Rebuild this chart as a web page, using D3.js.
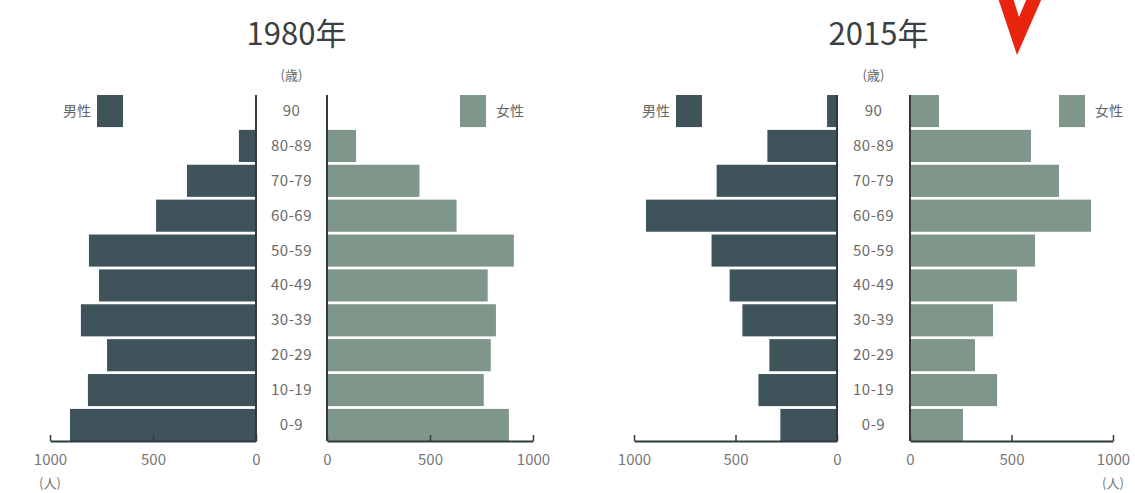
<!DOCTYPE html>
<html><head><meta charset="utf-8">
<script src="https://cdn.jsdelivr.net/npm/d3@7"></script>
<style>
html,body{margin:0;padding:0;background:#fff;}
svg{display:block;font-family:"Noto Sans CJK JP","Noto Sans",sans-serif;}
</style></head>
<body>
<svg id="chart" width="1135" height="493"></svg>
<script>
// ---- data ----
const ages = ["90", "80-89", "70-79", "60-69", "50-59", "40-49", "30-39", "20-29", "10-19", "0-9"];
const years = ["1980年", "2015年"];
const male1980   = [0, 83, 335, 485, 811, 762, 850, 723, 816, 903];
const female1980 = [0, 141, 449, 629, 907, 780, 820, 795, 761, 883];
const male2015   = [49, 343, 593, 941, 618, 529, 466, 333, 387, 279];
const female2015 = [143, 596, 734, 892, 616, 527, 409, 320, 429, 261];
const tickValues = [0, 500, 1000];
const legendLabels = ["男性", "女性"];
const ageUnit = "(歳)";
const countUnit = "(人)";

// ---- layout ----
const svg = d3.select("#chart");
const maleColor = "#3e535a", femaleColor = "#7f968a";
const panels = [
  {title: years[0], male: male1980, female: female1980, mZero: 256, fZero: 327, span: 206, unitSide: "left"},
  {title: years[1], male: male2015, female: female2015, mZero: 837, fZero: 910, span: 203, unitSide: "right"}
];
const y = d3.scaleBand().domain(ages).range([95, 441]).paddingInner(0.08).paddingOuter(0);

panels.forEach((p, pi) => {
  const g = svg.append("g");
  const xm = d3.scaleLinear().domain([0, 1000]).range([p.mZero, p.mZero - p.span]);
  const xf = d3.scaleLinear().domain([0, 1000]).range([p.fZero, p.fZero + p.span]);
  const center = (p.mZero + p.fZero) / 2;

  // title
  g.append("text").attr("x", center + 5).attr("y", 45).attr("text-anchor", "middle")
    .attr("font-size", 31).attr("font-weight", 400).attr("fill", "#3a3f41").text(p.title);

  // bars
  g.selectAll(".m").data(ages).join("rect")
    .attr("x", (d, i) => xm(p.male[i])).attr("y", d => y(d))
    .attr("width", (d, i) => xm(0) - xm(p.male[i])).attr("height", y.bandwidth())
    .attr("fill", maleColor);
  g.selectAll(".f").data(ages).join("rect")
    .attr("x", xf(0)).attr("y", d => y(d))
    .attr("width", (d, i) => xf(p.female[i]) - xf(0)).attr("height", y.bandwidth())
    .attr("fill", femaleColor);

  // vertical zero lines
  [p.mZero, p.fZero].forEach(x => {
    g.append("line").attr("x1", x).attr("x2", x).attr("y1", 95).attr("y2", 441)
      .attr("stroke", "#2e3a3e").attr("stroke-width", 2);
  });

  // age labels
  g.selectAll(".age").data(ages).join("text")
    .attr("x", center).attr("y", d => y(d) + y.bandwidth() / 2 + 5)
    .attr("text-anchor", "middle").attr("font-size", 15).attr("fill", "#6a6a6a")
    .attr("letter-spacing", 0.5).text(d => d);
  g.append("text").attr("x", center).attr("y", 80).attr("text-anchor", "middle")
    .attr("font-size", 13).attr("fill", "#666").text(ageUnit);

  // axes
  const fmt = d3.format("d");
  const axM = d3.axisBottom(xm).tickValues(tickValues).tickFormat(fmt).tickSizeInner(-6).tickSizeOuter(0).tickPadding(13);
  const axF = d3.axisBottom(xf).tickValues(tickValues).tickFormat(fmt).tickSizeInner(-6).tickSizeOuter(0).tickPadding(13);
  [axM, axF].forEach(ax => {
    const a = g.append("g").attr("transform", "translate(0,441)").call(ax);
    a.select(".domain").attr("stroke", "#2e3a3e").attr("stroke-width", 2);
    a.selectAll(".tick line").attr("stroke", "#2e3a3e").attr("stroke-width", 1.5);
    a.selectAll(".tick text").attr("font-size", 15).attr("fill", "#777")
      .attr("font-family", "'Noto Sans CJK JP','Noto Sans',sans-serif");
  });

  // count unit
  const ux = p.unitSide === "left" ? xm(1000) : xf(1000);
  g.append("text").attr("x", ux).attr("y", 488).attr("text-anchor", "middle")
    .attr("font-size", 13).attr("fill", "#777").text(countUnit);

  // legends
  const bw = 26;
  const mBoxX = pi === 0 ? 97 : 676;
  const fBoxX = pi === 0 ? 460 : 1059;
  g.append("rect").attr("x", mBoxX).attr("y", y(ages[0])).attr("width", bw).attr("height", y.bandwidth()).attr("fill", maleColor);
  g.append("text").attr("x", mBoxX - 6).attr("y", y(ages[0]) + y.bandwidth() / 2 + 5)
    .attr("text-anchor", "end").attr("font-size", 14).attr("fill", "#666").text(legendLabels[0]);
  g.append("rect").attr("x", fBoxX).attr("y", y(ages[0])).attr("width", bw).attr("height", y.bandwidth()).attr("fill", femaleColor);
  g.append("text").attr("x", fBoxX + bw + 10).attr("y", y(ages[0]) + y.bandwidth() / 2 + 5)
    .attr("text-anchor", "start").attr("font-size", 14).attr("fill", "#666").text(legendLabels[1]);
});

// red check mark (annotation in the picture)
svg.append("path")
  .attr("d", "M998,-2 L1013,-2 L1019,17 L1027,-2 L1042,-2 L1017,55 Z")
  .attr("fill", "#e8240e");
</script>
</body></html>
